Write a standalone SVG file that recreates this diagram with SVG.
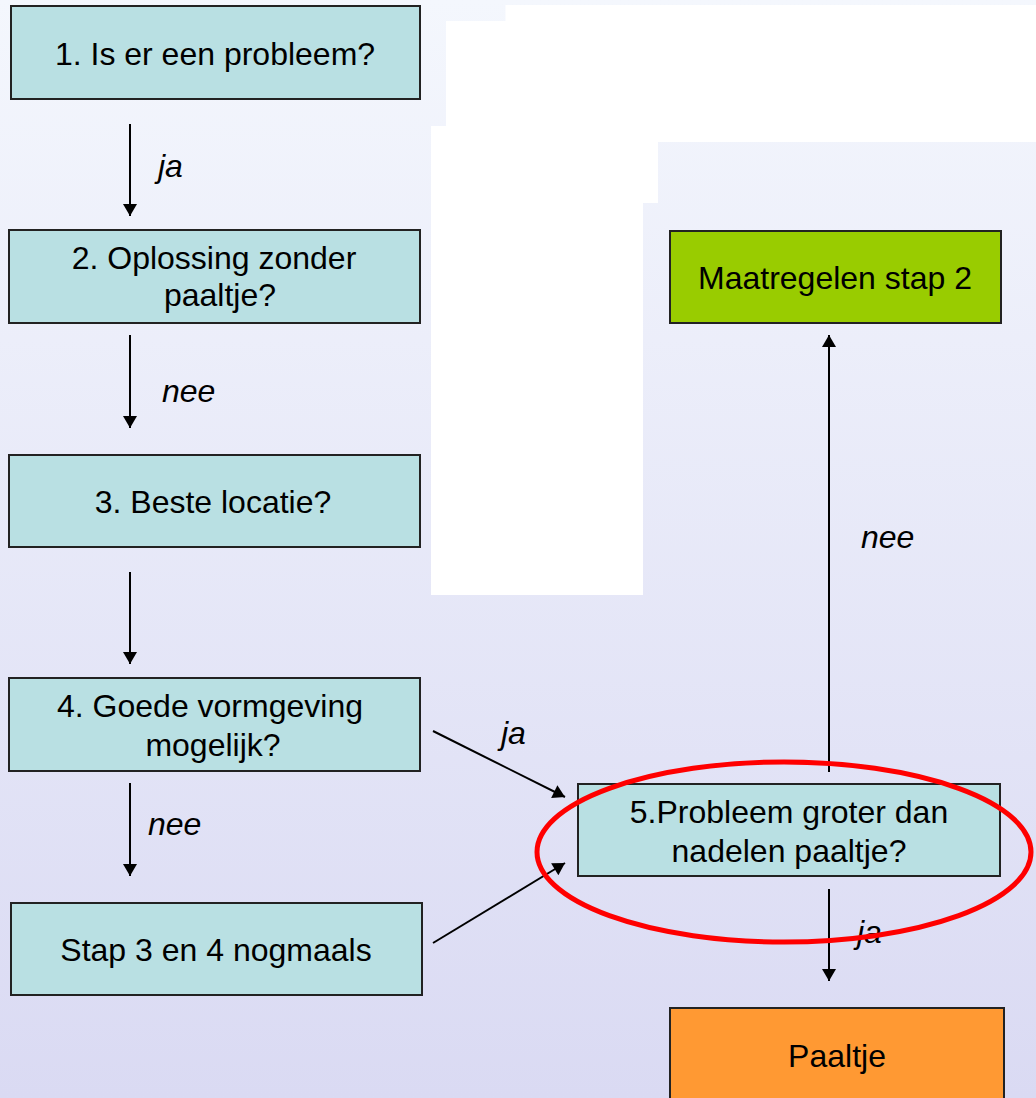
<svg xmlns="http://www.w3.org/2000/svg" width="1036" height="1098" viewBox="0 0 1036 1098">
<defs>
<linearGradient id="bg" x1="0" y1="0" x2="0" y2="1">
<stop offset="0" stop-color="#F4F7FD"/>
<stop offset="1" stop-color="#DADAF3"/>
</linearGradient>
<marker id="ah" markerUnits="userSpaceOnUse" markerWidth="14" markerHeight="14" viewBox="0 0 12 14" refX="12" refY="7" orient="auto">
<path d="M0,0 L12,7 L0,14 Z" fill="#000"/>
</marker>
<style>
.box{stroke:#222;stroke-width:2}
.q{fill:#B9E0E3}
.t{font-family:"Liberation Sans",Arial,sans-serif;font-size:32px;fill:#000;text-anchor:middle}
.l{font-family:"Liberation Sans",Arial,sans-serif;font-size:32px;font-style:italic;fill:#000}
.c{stroke:#000;stroke-width:2;fill:none;marker-end:url(#ah)}
</style>
</defs>
<rect x="0" y="0" width="1036" height="1098" fill="url(#bg)"/>
<g id="whiteout" fill="#FFFFFF">
<rect x="505.5" y="5" width="530.5" height="137"/>
<rect x="446" y="21" width="590" height="105"/>
<rect x="431" y="126" width="227" height="77"/>
<rect x="431" y="203" width="212" height="392"/>
</g>
<g id="n1"><rect class="box q" x="11" y="6" width="409" height="93"/><text class="t" x="215" y="65">1. Is er een probleem?</text></g>
<g id="n2"><rect class="box q" x="9" y="230" width="411" height="93"/><text class="t" x="214" y="269">2. Oplossing zonder</text><text class="t" x="220" y="306">paaltje?</text></g>
<g id="n3"><rect class="box q" x="9" y="455" width="411" height="92"/><text class="t" x="213" y="513">3. Beste locatie?</text></g>
<g id="n4"><rect class="box q" x="9" y="678" width="411" height="93"/><text class="t" x="210" y="717">4. Goede vormgeving</text><text class="t" x="213" y="756">mogelijk?</text></g>
<g id="n6"><rect class="box q" x="11" y="903" width="411" height="92"/><text class="t" x="216" y="961">Stap 3 en 4 nogmaals</text></g>
<g id="n7"><rect class="box" fill="#99CC00" x="670" y="231" width="331" height="92"/><text class="t" x="835" y="289">Maatregelen stap 2</text></g>
<g id="n5"><rect class="box q" x="578" y="784" width="422" height="92"/><text class="t" x="789" y="823">5.Probleem groter dan</text><text class="t" x="789" y="862">nadelen paaltje?</text></g>
<g id="n8"><rect class="box" fill="#FF9933" x="670" y="1008" width="334" height="100"/><text class="t" x="837" y="1067">Paaltje</text></g>
<g id="connectors">
<line class="c" x1="130" y1="124" x2="130" y2="216"/>
<line class="c" x1="130" y1="335" x2="130" y2="428"/>
<line class="c" x1="130" y1="572" x2="130" y2="664"/>
<line class="c" x1="130" y1="783" x2="130" y2="876"/>
<line class="c" x1="433" y1="731" x2="565" y2="797"/>
<line class="c" x1="433" y1="943" x2="565" y2="863"/>
<line class="c" x1="829" y1="772" x2="829" y2="335"/>
<line class="c" x1="829" y1="889" x2="829" y2="981"/>
</g>
<g id="labels">
<text class="l" x="158" y="177">ja</text>
<text class="l" x="162" y="402">nee</text>
<text class="l" x="148" y="835">nee</text>
<text class="l" x="501" y="744">ja</text>
<text class="l" x="861" y="548">nee</text>
<text class="l" x="857" y="943">ja</text>
</g>
<g id="highlight"><ellipse cx="784" cy="852" rx="247" ry="90" fill="none" stroke="#FF0000" stroke-width="5"/></g>
</svg>
